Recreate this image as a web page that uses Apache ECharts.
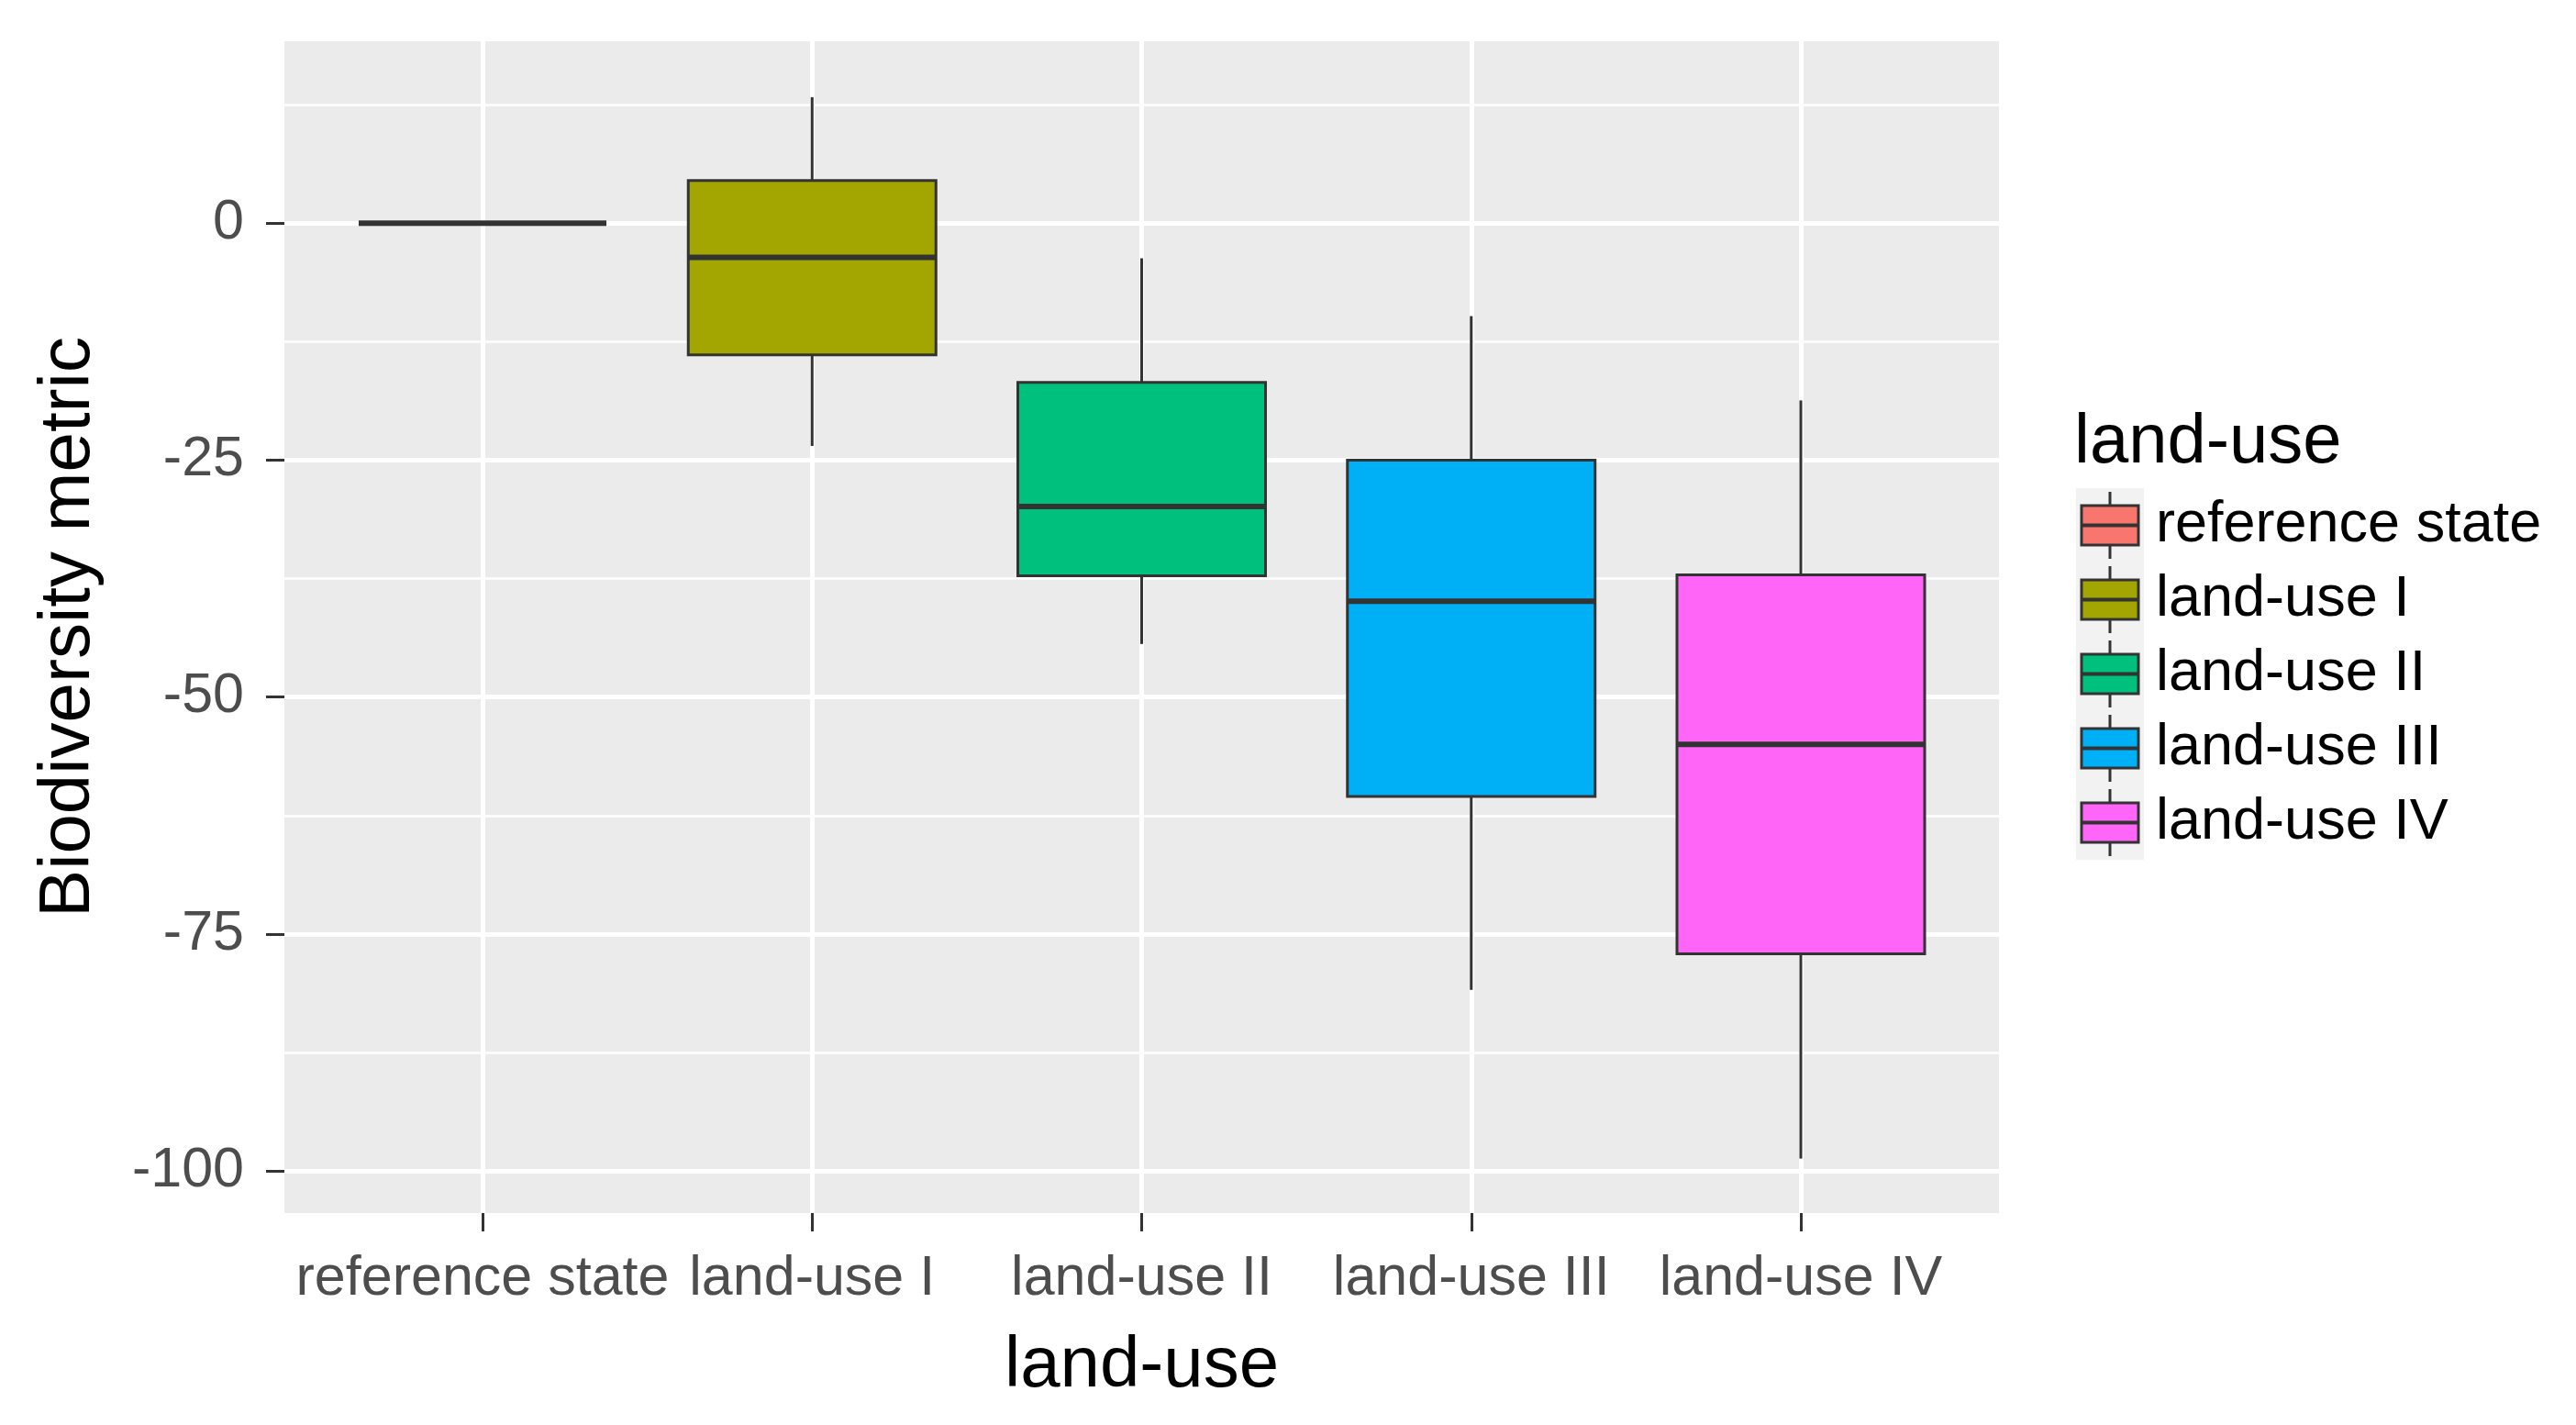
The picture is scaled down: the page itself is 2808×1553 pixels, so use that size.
<!DOCTYPE html>
<html>
<head>
<meta charset="utf-8">
<script src="https://cdn.jsdelivr.net/npm/echarts@6/dist/echarts.min.js"></script>
<style>
  html, body { margin: 0; padding: 0; background: #fff; }
  #chart { width: 2808px; height: 1553px; }
</style>
</head>
<body>
<div id="chart"></div>
<script>
// box statistics
var categories = ['reference state', 'land-use I', 'land-use II', 'land-use III', 'land-use IV'];
var whiskerHigh = [0, 13.3, -3.7, -9.8, -18.7];
var upperQuartile = [0, 4.5, -16.8, -25.0, -37.1];
var medians = [0, -3.6, -29.9, -39.9, -55.0];
var lowerQuartile = [0, -13.9, -37.2, -60.5, -77.1];
var whiskerLow = [0, -23.5, -44.4, -80.9, -98.7];
var colors = ['#F8766D', '#A3A500', '#00C07D', '#00B0F6', '#FF66F8'];

var yTicks = [0, -25, -50, -75, -100];
var yMinorLines = [12.5, -12.5, -37.5, -62.5, -87.5];
var yMin = -104.45, yMax = 19.2;

var FONT = "'Liberation Sans', Arial, sans-serif";
var INK = '#333333';
var BOX_HALF = 135;

var chart = echarts.init(document.getElementById('chart'));

function renderBox(params, api) {
    var x = api.value(0);
    var hi = api.coord([x, api.value(1)]);
    var q3 = api.coord([x, api.value(2)]);
    var md = api.coord([x, api.value(3)]);
    var q1 = api.coord([x, api.value(4)]);
    var lo = api.coord([x, api.value(5)]);
    var cx = hi[0];
    var fill = api.visual('color');
    var kids = [
        { type: 'line', shape: { x1: cx, y1: hi[1], x2: cx, y2: q3[1] }, style: { stroke: INK, lineWidth: 3 } },
        { type: 'line', shape: { x1: cx, y1: q1[1], x2: cx, y2: lo[1] }, style: { stroke: INK, lineWidth: 3 } }
    ];
    if (q1[1] - q3[1] > 0.5) {
        kids.push({ type: 'rect', shape: { x: cx - BOX_HALF, y: q3[1], width: BOX_HALF * 2, height: q1[1] - q3[1] },
            style: { fill: fill, stroke: INK, lineWidth: 3 } });
    }
    kids.push({ type: 'line', shape: { x1: cx - BOX_HALF, y1: md[1], x2: cx + BOX_HALF, y2: md[1] },
        style: { stroke: INK, lineWidth: 6 } });
    return { type: 'group', children: kids };
}

function keyIcon(color) {
    var svg = '<svg xmlns="http://www.w3.org/2000/svg" width="74" height="81" viewBox="0 0 74 81">' +
        '<rect x="0" y="0" width="74" height="81" fill="#F2F2F2"/>' +
        '<line x1="37" y1="4" x2="37" y2="77" stroke="#333" stroke-width="3"/>' +
        '<rect x="6" y="19" width="62" height="43" fill="' + color + '" stroke="#333" stroke-width="3"/>' +
        '<line x1="6" y1="40.5" x2="68" y2="40.5" stroke="#333" stroke-width="4"/>' +
        '</svg>';
    return 'image://data:image/svg+xml;charset=utf-8,' + encodeURIComponent(svg);
}

var series = categories.map(function (name, i) {
    return {
        name: name,
        type: 'custom',
        xAxisIndex: 1,
        yAxisIndex: 1,
        color: colors[i],
        renderItem: renderBox,
        encode: { x: 0, y: [1, 2, 3, 4, 5] },
        data: [[i, whiskerHigh[i], upperQuartile[i], medians[i], lowerQuartile[i], whiskerLow[i]]],
        z: 10
    };
});

// horizontal gridlines across the full panel
series.unshift({
    type: 'line',
    xAxisIndex: 0,
    yAxisIndex: 0,
    data: [[0, 0]],
    showSymbol: false,
    lineStyle: { opacity: 0 },
    silent: true,
    z: 1,
    markLine: {
        z: 1,
        silent: true,
        symbol: 'none',
        label: { show: false },
        animation: false,
        data: yTicks.map(function (v) { return { yAxis: v, lineStyle: { color: '#fff', width: 5, type: 'solid' } }; })
            .concat(yMinorLines.map(function (v) { return { yAxis: v, lineStyle: { color: '#fff', width: 2.5, type: 'solid' } }; }))
    }
});

var option = {
    animation: false,
    backgroundColor: '#ffffff',
    textStyle: { fontFamily: FONT },
    title: {
        text: 'land-use',
        left: 2256,
        top: 440,
        textStyle: { fontFamily: FONT, fontSize: 76, fontWeight: 'normal', color: '#000' }
    },
    legend: {
        orient: 'vertical',
        left: 2263,
        top: 532,
        itemWidth: 74,
        itemHeight: 81,
        itemGap: 0,
        padding: 0,
        selectedMode: false,
        textStyle: { fontFamily: FONT, fontSize: 63, color: '#000', padding: [0, 0, 0, 8] },
        data: categories.map(function (name, i) { return { name: name, icon: keyIcon(colors[i]) }; })
    },
    grid: [
        { left: 310, right: 629, top: 45, bottom: 231, show: true, backgroundColor: '#EBEBEB', borderWidth: 0, containLabel: false },
        { left: 526, right: 845, top: 45, bottom: 231, show: false, containLabel: false }
    ],
    xAxis: [
        { type: 'value', gridIndex: 0, min: 0, max: 1, show: false },
        {
            type: 'category',
            gridIndex: 1,
            data: categories,
            boundaryGap: false,
            position: 'bottom',
            axisLine: { show: false, onZero: false },
            axisTick: { show: true, length: 20, lineStyle: { color: INK, width: 3 } },
            axisLabel: { fontFamily: FONT, fontSize: 61, color: '#4D4D4D', margin: 42, interval: 0 },
            splitLine: { show: true, lineStyle: { color: '#ffffff', width: 5 } },
            name: 'land-use',
            nameLocation: 'middle',
            nameGap: 128,
            nameTextStyle: { fontFamily: FONT, fontSize: 78, color: '#000' }
        }
    ],
    yAxis: [
        {
            type: 'value',
            gridIndex: 0,
            min: yMin,
            max: yMax,
            axisLine: { show: false, onZero: false },
            axisTick: { show: true, length: 20, customValues: yTicks, lineStyle: { color: INK, width: 3 } },
            axisLabel: { fontFamily: FONT, fontSize: 61, color: '#4D4D4D', margin: 44, customValues: yTicks },
            splitLine: { show: false },
            name: 'Biodiversity metric',
            nameLocation: 'middle',
            nameGap: 196,
            nameTextStyle: { fontFamily: FONT, fontSize: 78, color: '#000' }
        },
        { type: 'value', gridIndex: 1, min: yMin, max: yMax, show: false }
    ],
    series: series
};

chart.setOption(option);
</script>
</body>
</html>
